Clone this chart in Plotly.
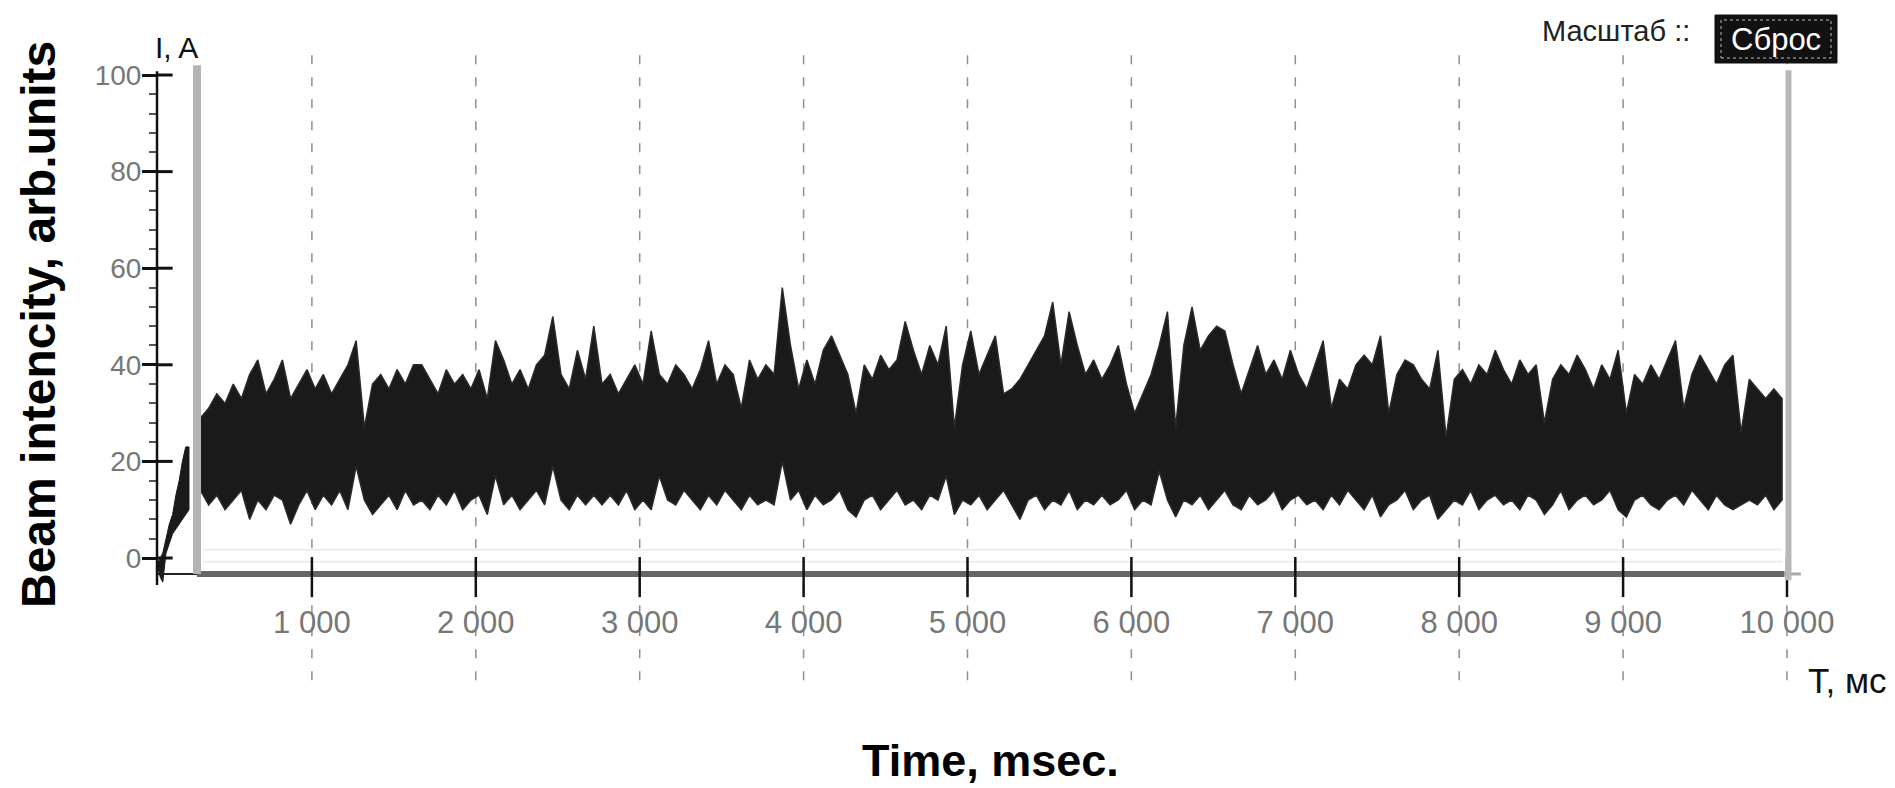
import plotly.graph_objects as go

# ---------------- data ----------------
# main record: sampled every 50 ms, upper / lower envelope of the noisy trace
T_START = 320
T_STEP = 50
upper_env = [
    29, 31, 34, 32, 36, 33, 38, 41, 34, 37,
    41, 33, 36, 39, 35, 38, 34, 37, 40, 45,
    27, 36, 38, 35, 39, 36, 40, 40, 37, 34,
    39, 36, 38, 35, 39, 33, 45, 41, 36, 39,
    35, 40, 42, 50, 38, 35, 43, 37, 48, 36,
    38, 34, 37, 40, 36, 47, 38, 36, 40, 38,
    35, 39, 45, 36, 40, 38, 31, 41, 37, 40,
    38, 56, 44, 35, 41, 36, 43, 46, 42, 38,
    30, 40, 37, 42, 39, 41, 49, 43, 38, 44,
    40, 48, 27, 40, 47, 38, 42, 46, 34, 35,
    37, 40, 43, 46, 53, 40, 51, 44, 38, 41,
    37, 40, 44, 36, 30, 34, 38, 44, 51, 27,
    44, 52, 43, 46, 48, 47, 40, 34, 39, 44,
    38, 41, 37, 43, 38, 35, 40, 45, 31, 37,
    35, 40, 42, 40, 46, 30, 38, 41, 40, 37,
    35, 43, 25, 37, 39, 36, 40, 38, 43, 39,
    36, 41, 38, 40, 28, 37, 40, 38, 42, 39,
    35, 40, 37, 43, 30, 38, 36, 40, 37, 41,
    45, 31, 38, 42, 39, 36, 40, 42, 26, 37,
    35, 33, 35, 33,
]
lower_env = [
    14, 11, 13, 10, 12, 14, 8, 12, 10, 13,
    12, 7, 11, 14, 10, 13, 11, 14, 10, 19,
    12, 9, 11, 13, 10, 14, 11, 12, 10, 13,
    11, 14, 10, 12, 13, 9, 17, 11, 13, 10,
    12, 14, 11, 19, 12, 10, 13, 11, 13, 11,
    13, 11, 14, 10, 12, 10, 17, 12, 11, 14,
    12, 10, 13, 11, 14, 12, 10, 13, 11, 12,
    11, 20, 12, 14, 10, 13, 11, 12, 14, 10,
    8.5, 12, 13, 10, 12, 14, 11, 12, 10, 13,
    12, 17, 9, 12, 11, 13, 10, 12, 14, 11,
    8, 12, 13, 10, 12, 11, 14, 10, 12, 11,
    13, 11, 12, 14, 10, 12, 11, 18, 12, 8.5,
    12, 11, 13, 10, 12, 14, 11, 10, 13, 11,
    12, 14, 10, 12, 13, 11, 12, 10, 13, 11,
    14, 12, 10, 13, 8.5, 11, 12, 14, 10, 12,
    13, 8, 10, 12, 11, 14, 10, 12, 13, 11,
    12, 10, 13, 12, 9, 11, 14, 10, 12, 13,
    11, 12, 14, 10, 8.5, 12, 13, 11, 10, 12,
    13, 11, 14, 12, 10, 13, 11, 10, 11, 12,
    11, 13, 10, 12,
]
times = [T_START + T_STEP * i for i in range(len(upper_env))]

# start-up ramp before the main record
ramp_t = [60, 75, 90, 110, 130, 150, 170, 190, 210, 230, 250]
ramp_upper = [-1, 0, 1, 4, 7, 9, 13, 16, 20, 23, 23]
ramp_lower = [-2, -4, -5, 1, 3, 5, 6, 7, 8, 9, 10]

x_ticks = [1000, 2000, 3000, 4000, 5000, 6000, 7000, 8000, 9000, 10000]
x_tick_labels = ["1 000", "2 000", "3 000", "4 000", "5 000",
                 "6 000", "7 000", "8 000", "9 000", "10 000"]
y_ticks = [0, 20, 40, 60, 80, 100]
y_tick_labels = ["0", "20", "40", "60", "80", "100"]
y_minor_ticks = [4, 8, 12, 16, 24, 28, 32, 36, 44, 48, 52, 56,
                 64, 68, 72, 76, 84, 88, 92, 96]

# ---------------- layout geometry ----------------
W, H = 1895, 788
X_RANGE = [-903.0, 10659.0]
Y_RANGE = [-47.62, 115.53]
Y_AXIS_T = 55          # time where the vertical axis sits
X_AXIS_V = -3.3        # value where the horizontal axis sits
X_TICK_BOTTOM_V = -8.1
LEFT_BAR_T = 299
RIGHT_BAR_T = 10009

SANS = "Liberation Sans, Arial, sans-serif"


def px(x):
    return x / W


def py(y):
    return 1 - y / H


fig = go.Figure()

fig.add_trace(go.Scatter(
    x=ramp_t + ramp_t[::-1], y=ramp_upper + ramp_lower[::-1],
    fill="toself", mode="lines", line=dict(color="#1a1a1a", width=1),
    fillcolor="#1a1a1a", hoverinfo="skip", showlegend=False))

fig.add_trace(go.Scatter(
    x=times + times[::-1], y=upper_env + lower_env[::-1],
    fill="toself", mode="lines", line=dict(color="#2a2a2a", width=1.5),
    fillcolor="#1a1a1a", hoverinfo="skip", showlegend=False))

shapes = []
# dashed vertical grid lines
for t in x_ticks:
    shapes.append(dict(type="line", xref="x", yref="y", x0=t, x1=t, y0=104.1, y1=-25.9,
                       line=dict(color="#8f8f8f", width=1.5, dash="9px,13px"), layer="below"))
# faint double line above the axis
for v in [1.7, -0.8]:
    shapes.append(dict(type="line", xref="x", yref="y", x0=335, x1=9970, y0=v, y1=v,
                       line=dict(color="#ededed", width=2), layer="below"))
# horizontal axis: thin part, thick part, thin tail
shapes.append(dict(type="line", xref="x", yref="y", x0=Y_AXIS_T, x1=LEFT_BAR_T, y0=X_AXIS_V, y1=X_AXIS_V,
                   line=dict(color="#222222", width=2)))
shapes.append(dict(type="line", xref="x", yref="y", x0=LEFT_BAR_T, x1=9985, y0=X_AXIS_V, y1=X_AXIS_V,
                   line=dict(color="#666666", width=6)))
shapes.append(dict(type="line", xref="x", yref="y", x0=9985, x1=10085, y0=X_AXIS_V, y1=X_AXIS_V,
                   line=dict(color="#aaaaaa", width=3)))
# x ticks crossing the axis
for t in x_ticks:
    shapes.append(dict(type="line", xref="x", yref="y", x0=t, x1=t, y0=0.2, y1=X_TICK_BOTTOM_V,
                       line=dict(color="#111111", width=2.5)))
# vertical axis line
shapes.append(dict(type="line", xref="x", yref="y", x0=Y_AXIS_T, x1=Y_AXIS_T, y0=100.8, y1=-5.6,
                   line=dict(color="#111111", width=2.5)))
# right half of major y ticks
for v in y_ticks:
    shapes.append(dict(type="line", xref="x", yref="y", x0=Y_AXIS_T, x1=Y_AXIS_T + 95, y0=v, y1=v,
                       line=dict(color="#111111", width=3)))
# grey cursor bars
shapes.append(dict(type="line", xref="x", yref="y", x0=LEFT_BAR_T, x1=LEFT_BAR_T, y0=102, y1=X_AXIS_V,
                   line=dict(color="#b3b3b3", width=8)))
shapes.append(dict(type="line", xref="x", yref="y", x0=RIGHT_BAR_T, x1=RIGHT_BAR_T, y0=101, y1=-4.6,
                   line=dict(color="#b8b8b8", width=6)))
# "Сброс" button
shapes.append(dict(type="rect", xref="paper", yref="paper", x0=px(1715), x1=px(1837), y0=py(63), y1=py(15),
                   fillcolor="#111111", line=dict(color="#111111", width=1)))
shapes.append(dict(type="rect", xref="paper", yref="paper", x0=px(1721), x1=px(1831), y0=py(58), y1=py(20),
                   fillcolor="rgba(0,0,0,0)", line=dict(color="#bbbbbb", width=1, dash="dot")))

annotations = [
    dict(text="<b>Beam intencity, arb.units</b>", xref="paper", yref="paper", x=px(38), y=py(325),
         showarrow=False, textangle=-90, font=dict(family=SANS, size=48, color="#000000"),
         xanchor="center", yanchor="middle"),
    dict(text="<b>Time, msec.</b>", xref="paper", yref="paper", x=px(990), y=py(760),
         showarrow=False, font=dict(family=SANS, size=45, color="#000000"),
         xanchor="center", yanchor="middle"),
    dict(text="I, A", xref="paper", yref="paper", x=px(176), y=py(47), showarrow=False,
         font=dict(family=SANS, size=30, color="#111111"), xanchor="center", yanchor="middle"),
    dict(text="T, мс", xref="paper", yref="paper", x=px(1806), y=py(680), showarrow=False,
         font=dict(family=SANS, size=35, color="#111111"), xanchor="left", yanchor="middle"),
    dict(text="Масштаб ::", xref="paper", yref="paper", x=px(1692), y=py(31), showarrow=False,
         font=dict(family=SANS, size=29, color="#222222"), xanchor="right", yanchor="middle"),
    dict(text="Сброс", xref="paper", yref="paper", x=px(1776), y=py(39), showarrow=False,
         font=dict(family=SANS, size=31, color="#ffffff"), xanchor="center", yanchor="middle"),
]

fig.update_layout(
    width=W, height=H,
    margin=dict(l=0, r=0, t=0, b=0),
    paper_bgcolor="#ffffff", plot_bgcolor="#ffffff",
    showlegend=False,
    shapes=shapes,
    annotations=annotations,
    xaxis=dict(range=X_RANGE, anchor="free", position=(H - 574) / H,
               tickvals=x_ticks, ticktext=x_tick_labels,
               ticks="outside", ticklen=23, tickwidth=2.5, tickcolor="rgba(0,0,0,0)",
               ticklabelstandoff=-2,
               tickfont=dict(family=SANS, size=31, color="#777777"),
               showgrid=False, zeroline=False, showline=False, fixedrange=True),
    yaxis=dict(range=Y_RANGE, anchor="free", position=157 / W,
               tickvals=y_ticks, ticktext=y_tick_labels,
               ticks="outside", ticklen=15, tickwidth=3, tickcolor="#111111",
               ticklabelstandoff=-5,
               tickfont=dict(family=SANS, size=28, color="#777777"),
               minor=dict(tickmode="array", tickvals=y_minor_ticks, ticks="outside",
                          ticklen=8, tickwidth=2, tickcolor="#555555"),
               showgrid=False, zeroline=False, showline=False, fixedrange=True),
)

fig.write_html("out.html", config={"displayModeBar": False},
               post_script="document.body.style.margin='0';document.body.style.overflow='hidden';")
